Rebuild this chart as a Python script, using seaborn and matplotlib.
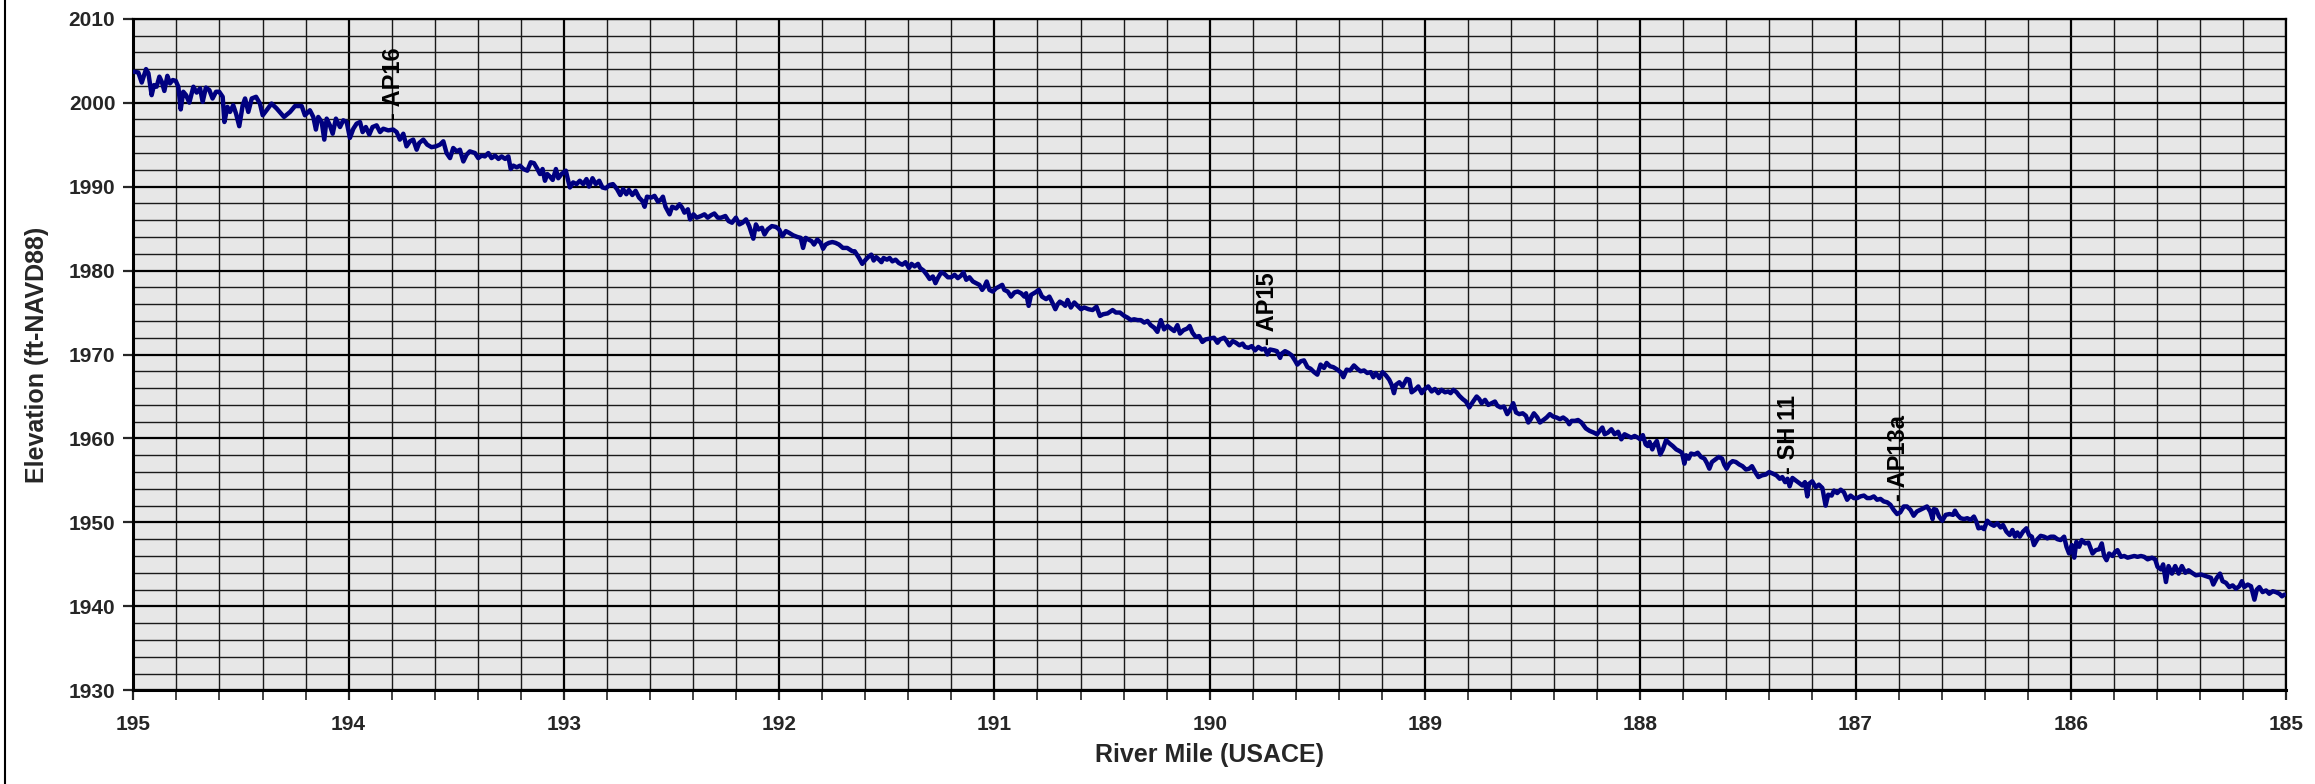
import matplotlib
matplotlib.use("Agg")
import matplotlib.pyplot as plt
from matplotlib.ticker import MultipleLocator
import seaborn as sns
import pandas as pd

# ---- data ----
river_mile = [
    195.000, 194.977, 194.961, 194.941, 194.930, 194.915, 194.904, 194.892, 194.879, 194.868,
    194.856, 194.842, 194.830, 194.817, 194.803, 194.791, 194.780, 194.768, 194.755, 194.740,
    194.721, 194.706, 194.690, 194.678, 194.663, 194.647, 194.632, 194.616, 194.601, 194.585,
    194.577, 194.563, 194.551, 194.536, 194.523, 194.508, 194.492, 194.481, 194.466, 194.450,
    194.430, 194.412, 194.399, 194.381, 194.358, 194.334, 194.300, 194.272, 194.249, 194.218,
    194.203, 194.180, 194.164, 194.152, 194.141, 194.125, 194.113, 194.102, 194.087, 194.074,
    194.059, 194.040, 194.025, 194.009, 193.994, 193.978, 193.963, 193.947, 193.935, 193.920,
    193.904, 193.889, 193.870, 193.854, 193.839, 193.816, 193.793, 193.777, 193.762, 193.746,
    193.731, 193.715, 193.700, 193.684, 193.672, 193.653, 193.635, 193.615, 193.594, 193.576,
    193.560, 193.545, 193.529, 193.514, 193.498, 193.483, 193.467, 193.452, 193.437, 193.413,
    193.398, 193.382, 193.367, 193.351, 193.336, 193.320,
    193.304, 193.289, 193.273, 193.258, 193.247, 193.235, 193.219, 193.204, 193.188, 193.170,
    193.154, 193.139, 193.123, 193.111, 193.099, 193.088, 193.077, 193.065, 193.052, 193.037,
    193.026, 193.011, 192.991, 192.980, 192.972, 192.957, 192.941, 192.926, 192.910, 192.895,
    192.883, 192.867, 192.852, 192.836, 192.821, 192.806, 192.787, 192.772, 192.753, 192.738,
    192.725, 192.710, 192.698, 192.682, 192.667, 192.651, 192.636, 192.625, 192.614, 192.594,
    192.579, 192.563, 192.548, 192.540, 192.528, 192.509, 192.497, 192.478, 192.463, 192.451,
    192.440, 192.424, 192.414, 192.398, 192.383, 192.363, 192.347, 192.332, 192.316, 192.301,
    192.285, 192.270, 192.250, 192.235, 192.219, 192.201, 192.185, 192.170, 192.154, 192.139,
    192.120, 192.108, 192.096, 192.080, 192.068, 192.054, 192.034, 192.015, 192.000, 191.985,
    191.969, 191.954, 191.935, 191.915, 191.900, 191.889, 191.877, 191.864, 191.849, 191.838,
    191.823, 191.807, 191.796, 191.784, 191.769, 191.753, 191.738, 191.722, 191.704, 191.684,
    191.660,
    191.649, 191.629, 191.614, 191.598, 191.583, 191.572, 191.561, 191.549, 191.536, 191.525,
    191.515, 191.499, 191.487, 191.474, 191.459, 191.444, 191.428, 191.413, 191.397, 191.385,
    191.371, 191.355, 191.345, 191.329, 191.314, 191.301, 191.286, 191.274, 191.263, 191.247,
    191.232, 191.216, 191.201, 191.185, 191.170, 191.155, 191.144, 191.131, 191.116, 191.100,
    191.085, 191.070, 191.057, 191.046, 191.036, 191.023, 191.008, 190.992, 190.977, 190.964,
    190.954, 190.938, 190.923, 190.907, 190.892, 190.876, 190.861, 190.853, 190.841, 190.830,
    190.810, 190.794, 190.779, 190.760, 190.745, 190.733, 190.717, 190.706, 190.696, 190.683,
    190.671, 190.660, 190.645, 190.629, 190.614, 190.598, 190.583, 190.563, 190.544, 190.526,
    190.510, 190.495, 190.474, 190.451, 190.436, 190.417, 190.397, 190.382, 190.366, 190.351,
    190.335, 190.320, 190.304, 190.289, 190.274, 190.258, 190.243, 190.227, 190.212, 190.196,
    190.181, 190.165, 190.150, 190.138, 190.122, 190.104, 190.093, 190.080, 190.065, 190.049,
    190.034, 190.019, 190.000, 189.980,
    189.964, 189.952, 189.933, 189.921, 189.909, 189.893, 189.878, 189.862, 189.847, 189.836,
    189.820, 189.805, 189.789, 189.774, 189.758, 189.743, 189.732, 189.720, 189.701, 189.688,
    189.673, 189.666, 189.650, 189.635, 189.619, 189.604, 189.593, 189.577, 189.562, 189.546,
    189.531, 189.515, 189.500, 189.485, 189.469, 189.457, 189.441, 189.426, 189.407, 189.392,
    189.379, 189.364, 189.348, 189.330, 189.314, 189.299, 189.283, 189.268, 189.252, 189.240,
    189.228, 189.212, 189.197, 189.181, 189.166, 189.155, 189.144, 189.135, 189.119, 189.104,
    189.085, 189.073, 189.062, 189.046, 189.031, 189.015, 189.000, 188.985, 188.969, 188.954,
    188.938, 188.923, 188.907, 188.892, 188.881, 188.868, 188.853, 188.841, 188.825, 188.810,
    188.794, 188.779, 188.760, 188.748, 188.737, 188.721, 188.706, 188.690, 188.675, 188.664,
    188.649, 188.633, 188.618, 188.605, 188.590, 188.577, 188.562, 188.546, 188.531, 188.520,
    188.509, 188.494, 188.478, 188.466, 188.450, 188.435, 188.420, 188.404, 188.389, 188.373,
    188.358, 188.342, 188.330, 188.319, 188.303,
    188.289, 188.273, 188.253, 188.235, 188.216, 188.201, 188.185, 188.176, 188.165, 188.150,
    188.134, 188.119, 188.103, 188.088, 188.073, 188.057, 188.042, 188.026, 188.011, 188.000,
    187.988, 187.975, 187.965, 187.957, 187.944, 187.934, 187.923, 187.907, 187.895, 187.880,
    187.864, 187.849, 187.833, 187.818, 187.806, 187.795, 187.787, 187.775, 187.764, 187.748,
    187.733, 187.718, 187.702, 187.691, 187.679, 187.667, 187.651, 187.636, 187.620, 187.610,
    187.599, 187.586, 187.571, 187.556, 187.540, 187.525, 187.509, 187.494, 187.481, 187.466,
    187.451, 187.435, 187.417, 187.401, 187.383, 187.367, 187.352, 187.340, 187.327, 187.316,
    187.306, 187.293, 187.278, 187.262, 187.247, 187.235, 187.224, 187.216, 187.201, 187.185,
    187.170, 187.154, 187.139, 187.127, 187.111, 187.100, 187.085, 187.069, 187.054, 187.039,
    187.023, 187.008, 186.992, 186.977, 186.961, 186.946, 186.931, 186.915, 186.900, 186.884,
    186.869, 186.853, 186.838, 186.823, 186.807, 186.792, 186.776, 186.761, 186.745, 186.730,
    186.715, 186.699, 186.684, 186.668, 186.653, 186.642,
    186.636, 186.625, 186.612, 186.597, 186.581, 186.563, 186.547, 186.538, 186.527, 186.512,
    186.496, 186.481, 186.465, 186.450, 186.439, 186.429, 186.414, 186.403, 186.388, 186.372,
    186.357, 186.341, 186.326, 186.315, 186.299, 186.284, 186.271, 186.259, 186.248, 186.237,
    186.222, 186.206, 186.194, 186.181, 186.171, 186.155, 186.140, 186.124, 186.109, 186.093,
    186.078, 186.062, 186.047, 186.031, 186.020, 186.008, 185.995, 185.984, 185.974, 185.961,
    185.949, 185.933, 185.918, 185.899, 185.884, 185.868, 185.856, 185.845, 185.834, 185.822,
    185.806, 185.794, 185.783, 185.767, 185.752, 185.736, 185.721, 185.705, 185.690, 185.674,
    185.659, 185.643, 185.623, 185.608, 185.597, 185.581, 185.571, 185.558, 185.546, 185.530,
    185.515, 185.499, 185.484, 185.468, 185.453, 185.437, 185.419, 185.395, 185.372, 185.349,
    185.338, 185.322, 185.307, 185.295, 185.279, 185.264, 185.248, 185.233, 185.217, 185.205,
    185.194, 185.178, 185.163, 185.147, 185.136, 185.124, 185.109, 185.093, 185.078, 185.062,
    185.047, 185.031, 185.019, 185.008,
]

elevation = [
    2003.7, 2003.6, 2002.4, 2004.0, 2003.5, 2000.9, 2002.1, 2001.9, 2003.1, 2002.5,
    2001.4, 2003.2, 2002.3, 2002.7, 2002.6, 2001.9, 1999.2, 2001.3, 2000.9, 2000.0,
    2001.9, 2001.2, 2001.7, 2000.1, 2001.8, 2001.5, 2000.5, 2001.3, 2001.3, 2000.7,
    1997.7, 1999.5, 1998.9, 1999.7, 1998.7, 1997.2, 1999.7, 2000.5, 1998.9, 2000.5,
    2000.7, 1999.9, 1998.5, 1999.1, 1999.9, 1999.3, 1998.3, 1998.9, 1999.6, 1999.6,
    1998.5, 1999.1, 1998.3, 1996.8, 1998.3, 1997.7, 1995.6, 1998.1, 1997.3, 1996.3,
    1998.1, 1997.1, 1997.9, 1997.7, 1995.8, 1996.9, 1997.5, 1997.7, 1996.5, 1997.1,
    1996.2, 1997.1, 1997.3, 1996.5, 1996.9, 1996.7, 1996.8, 1996.5, 1995.6, 1996.3,
    1994.8, 1995.4, 1995.6, 1994.4, 1995.2, 1995.6, 1995.0, 1994.7, 1994.8, 1995.0,
    1995.4, 1994.0, 1993.4, 1994.6, 1994.2, 1994.4, 1993.0, 1993.8, 1994.2, 1994.0,
    1993.4, 1993.7, 1993.6, 1994.0, 1993.4, 1993.7,
    1993.3, 1993.6, 1993.3, 1993.6, 1992.1, 1992.5, 1992.3, 1992.5, 1992.1, 1991.9,
    1992.9, 1992.8, 1992.1, 1991.5, 1992.1, 1990.7, 1991.5, 1991.2, 1990.8, 1992.1,
    1991.0, 1991.5, 1991.9, 1990.7, 1989.9, 1990.5, 1990.3, 1990.7, 1990.3, 1990.9,
    1990.0, 1991.0, 1990.3, 1990.7, 1989.9, 1989.8, 1990.2, 1990.3, 1989.7, 1989.0,
    1989.7, 1989.1, 1989.6, 1989.0, 1989.5, 1988.7, 1988.3, 1987.6, 1988.8, 1988.7,
    1988.9, 1988.2, 1988.5, 1988.8, 1987.6, 1986.7, 1987.6, 1987.4, 1987.9, 1987.5,
    1986.9, 1987.3, 1986.1, 1986.7, 1986.3, 1986.5, 1986.7, 1986.3, 1986.6, 1986.8,
    1986.3, 1986.3, 1986.5, 1985.9, 1985.7, 1986.3, 1985.5, 1985.7, 1986.1, 1985.3,
    1983.8, 1985.5, 1984.9, 1985.1, 1984.3, 1984.9, 1985.3, 1985.2, 1984.9, 1984.1,
    1984.7, 1984.5, 1984.2, 1984.0, 1983.9, 1982.7, 1983.9, 1983.7, 1983.5, 1983.1,
    1983.7, 1983.3, 1982.6, 1983.1, 1983.3, 1983.4, 1983.3, 1983.1, 1982.7, 1982.7,
    1982.3,
    1982.3, 1981.5, 1980.8, 1981.3, 1981.7, 1981.9, 1981.2, 1981.6, 1981.3, 1981.0,
    1981.5, 1981.3, 1981.5, 1981.1, 1981.3, 1980.9, 1980.7, 1981.0, 1980.3, 1980.8,
    1980.5, 1980.8, 1980.3, 1980.0, 1979.5, 1979.0, 1979.3, 1978.5, 1979.1, 1979.8,
    1979.6, 1979.2, 1979.2, 1979.5, 1979.1, 1979.4, 1979.8, 1978.9, 1979.2, 1978.7,
    1978.5, 1978.3, 1977.7, 1978.1, 1978.7, 1977.7, 1977.5, 1977.9, 1978.1, 1978.3,
    1977.7, 1977.5, 1976.9, 1977.4, 1977.5, 1977.3, 1976.9, 1977.3, 1975.8, 1977.1,
    1977.4, 1977.7, 1976.9, 1976.6, 1976.9, 1976.3, 1975.4, 1976.0, 1976.3, 1976.1,
    1975.8, 1976.5, 1975.6, 1976.2, 1975.8, 1975.4, 1975.6, 1975.4, 1975.3, 1975.7,
    1974.6, 1974.8, 1974.9, 1975.3, 1975.0, 1975.0, 1974.6, 1974.4, 1974.1, 1974.2,
    1974.1, 1974.1, 1973.8, 1974.0, 1973.5, 1973.2, 1972.7, 1974.1, 1973.0, 1973.4,
    1973.1, 1972.8, 1973.5, 1972.5, 1972.9, 1973.1, 1973.4, 1972.6, 1972.1, 1972.2,
    1971.5, 1971.8, 1971.9, 1972.0,
    1971.4, 1971.8, 1972.0, 1971.6, 1971.1, 1971.6, 1971.4, 1971.1, 1971.3, 1970.9,
    1970.8, 1971.0, 1970.5, 1970.9, 1970.6, 1970.7, 1970.0, 1970.6, 1970.5, 1970.4,
    1969.6, 1970.1, 1970.4, 1970.2, 1969.9, 1969.3, 1968.8, 1969.2, 1969.3, 1968.5,
    1968.3, 1967.9, 1967.6, 1968.8, 1968.4, 1969.0, 1968.6, 1968.5, 1968.2, 1967.9,
    1967.3, 1968.2, 1968.1, 1968.7, 1968.3, 1968.0, 1968.1, 1967.8, 1967.9, 1967.3,
    1967.8, 1967.2, 1967.9, 1967.5, 1967.0, 1966.4, 1965.4, 1966.4, 1966.7, 1966.2,
    1967.1, 1967.0, 1965.5, 1965.8, 1966.2, 1965.4, 1965.9, 1966.2, 1965.6, 1965.9,
    1965.4, 1965.8, 1965.5, 1965.6, 1965.4, 1965.8, 1965.5, 1965.1, 1964.7, 1964.4,
    1963.7, 1964.3, 1965.0, 1964.7, 1964.2, 1964.6, 1964.0, 1964.2, 1964.4, 1963.9,
    1963.7, 1963.8, 1962.9, 1963.4, 1964.2, 1963.1, 1962.9, 1963.0, 1962.7, 1961.9,
    1962.3, 1963.0, 1962.5, 1961.9, 1962.2, 1962.5, 1962.9, 1962.6, 1962.5, 1962.3,
    1962.5, 1962.2, 1961.7, 1962.1, 1962.1,
    1962.2, 1961.9, 1961.2, 1960.9, 1960.7, 1960.5, 1961.0, 1961.3, 1960.5, 1960.7,
    1961.1, 1960.5, 1960.8, 1959.9, 1960.5, 1960.3, 1960.1, 1960.3, 1960.1, 1959.9,
    1960.4, 1959.3, 1959.1, 1959.6, 1958.7, 1959.3, 1959.7, 1958.1, 1958.7, 1959.8,
    1959.4, 1959.1, 1958.7, 1958.5, 1958.3, 1957.0, 1958.0, 1957.6, 1958.2, 1958.1,
    1958.3, 1957.8, 1957.6, 1957.1, 1956.4, 1957.2, 1957.5, 1957.8, 1957.6, 1956.9,
    1956.4, 1957.0, 1957.3, 1957.2, 1956.9, 1956.7, 1956.3, 1956.4, 1956.7, 1956.0,
    1955.4, 1955.6, 1955.7, 1956.0, 1955.8, 1955.6, 1955.2, 1955.4, 1954.8, 1955.2,
    1954.3, 1955.3, 1955.0, 1954.7, 1954.4, 1954.8, 1953.1, 1954.6, 1954.9, 1954.2,
    1954.5, 1954.1, 1952.0, 1953.3, 1953.2, 1953.8, 1953.5, 1953.9, 1953.6, 1952.7,
    1953.2, 1952.9, 1952.9, 1953.1, 1953.2, 1952.9, 1952.9, 1953.1, 1952.7, 1952.8,
    1952.5, 1952.4, 1952.1, 1951.5, 1951.0, 1951.2, 1951.9, 1951.9, 1951.5, 1950.8,
    1951.3, 1951.5, 1951.7, 1951.9, 1951.3, 1950.4,
    1951.6, 1951.5, 1950.7, 1950.2, 1950.9, 1951.0, 1950.9, 1951.4, 1950.9, 1950.5,
    1950.4, 1950.5, 1950.3, 1950.7, 1950.1, 1949.3, 1949.4, 1949.2, 1950.2, 1949.8,
    1949.6, 1949.9, 1949.4, 1949.7, 1948.9, 1948.5, 1949.1, 1948.3, 1948.8, 1948.3,
    1948.9, 1949.3, 1948.5, 1948.3, 1947.3, 1948.0, 1948.4, 1948.3, 1948.1, 1948.3,
    1948.3, 1948.0, 1947.9, 1948.3, 1947.1, 1946.3, 1947.3, 1945.8, 1947.7, 1947.1,
    1947.9, 1947.5, 1947.6, 1946.3, 1946.7, 1946.8, 1947.5, 1946.0, 1945.5, 1946.3,
    1946.0, 1946.5, 1946.7, 1945.9, 1946.0, 1945.8, 1945.9, 1946.0, 1945.9, 1946.0,
    1945.9, 1945.6, 1945.8, 1945.6, 1944.7, 1944.4, 1945.0, 1942.9, 1944.8, 1943.9,
    1944.8, 1943.9, 1944.8, 1944.0, 1944.3, 1944.0, 1943.7, 1943.8, 1943.6, 1943.4,
    1942.6, 1943.4, 1943.9, 1943.0, 1942.8, 1942.3, 1942.5, 1942.1, 1942.4, 1943.0,
    1942.3, 1942.6, 1942.4, 1940.8, 1942.0, 1942.3, 1941.7, 1941.9, 1941.5, 1941.8,
    1941.7, 1941.5, 1941.2, 1941.4,
]

label_names = ["- AP16", "- AP15", "- SH 11", "- AP13a"]
label_miles = [193.79, 189.73, 187.31, 186.80]
label_elev = [1997.9, 1971.1, 1955.8, 1952.5]

x_major_ticks = [195, 194, 193, 192, 191, 190, 189, 188, 187, 186, 185]
y_major_ticks = [1930, 1940, 1950, 1960, 1970, 1980, 1990, 2000, 2010]

# ---- drawing ----
sns.set_style("white")
plt.rcParams["font.family"] = ["Liberation Sans", "DejaVu Sans"]

fig = plt.figure(figsize=(23.15, 7.84), dpi=100)
ax = fig.add_axes([0.0576, 0.1195, 0.9299, 0.8566])

df = pd.DataFrame({"mile": river_mile, "elev": elevation})
ax.set_facecolor("#e7e7e7")
sns.lineplot(data=df, x="mile", y="elev", sort=False, estimator=None,
             color="#000080", linewidth=3.2, ax=ax, zorder=5)

ax.set_xlim(195, 185)
ax.set_ylim(1930, 2010)
ax.set_xticks(x_major_ticks)
ax.set_yticks(y_major_ticks)
ax.xaxis.set_minor_locator(MultipleLocator(0.2))
ax.yaxis.set_minor_locator(MultipleLocator(2))

ax.grid(which="major", color="black", linewidth=1.6, zorder=1)
ax.grid(which="minor", color="#1a1a1a", linewidth=1.0, zorder=1)
ax.set_axisbelow(True)

ax.tick_params(axis="x", which="major", direction="out", length=7, width=1.6,
               labelsize=15, pad=11, bottom=True)
ax.tick_params(axis="x", which="minor", direction="out", length=7, width=1.2, bottom=True)
ax.tick_params(axis="y", which="major", direction="out", length=7, width=1.6,
               labelsize=15, pad=6, left=True)
ax.tick_params(axis="y", which="minor", length=0)
for lab in ax.get_xticklabels() + ax.get_yticklabels():
    lab.set_fontweight("bold")

for s in ax.spines.values():
    s.set_color("black")
    s.set_linewidth(1.6)
ax.spines["left"].set_linewidth(2.2)
ax.spines["bottom"].set_linewidth(2.2)

ax.set_xlabel("River Mile (USACE)", fontsize=18, fontweight="bold", labelpad=6)
ax.set_ylabel("Elevation (ft-NAVD88)", fontsize=18, fontweight="bold", labelpad=14)

for name, m, e in zip(label_names, label_miles, label_elev):
    ax.text(m, e, name, rotation=90, ha="center", va="bottom", fontsize=17,
            fontweight="bold", color="black", zorder=6)

# chart-area border on the left edge
fig.add_artist(plt.Line2D([5 / 2315, 5 / 2315], [0, 1], transform=fig.transFigure,
                          color="black", linewidth=1.5))

fig.savefig("out.png", dpi=100)
